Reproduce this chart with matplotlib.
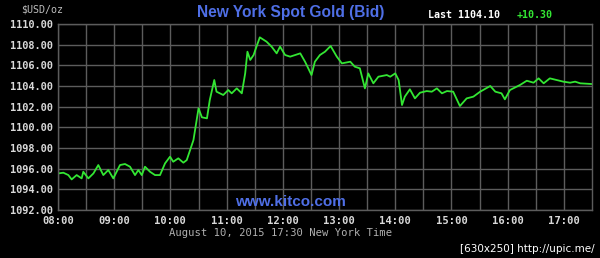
import matplotlib
matplotlib.use("Agg")
import matplotlib.pyplot as plt
import numpy as np

# hours since midnight (New York time) and bid price
hours = [8.006, 8.095, 8.184, 8.243, 8.332, 8.421, 8.45, 8.54, 8.63, 8.717,
         8.806, 8.895, 8.984, 9.103, 9.192, 9.281, 9.37, 9.43, 9.49, 9.548,
         9.637, 9.726, 9.815, 9.904, 9.993, 10.05, 10.14, 10.23, 10.29, 10.35,
         10.41, 10.50, 10.56, 10.65, 10.70, 10.78, 10.82, 10.94, 11.03, 11.09,
         11.18, 11.27, 11.33, 11.37, 11.42, 11.48, 11.51, 11.59, 11.71, 11.80,
         11.89, 11.95, 12.04, 12.13, 12.22, 12.31, 12.395, 12.51, 12.57, 12.66,
         12.75, 12.85, 12.96, 13.05, 13.20, 13.28, 13.37, 13.46, 13.52, 13.61,
         13.70, 13.85, 13.91, 14.0, 14.06, 14.12, 14.17, 14.26, 14.35, 14.44,
         14.56, 14.65, 14.74, 14.83, 14.92, 15.03, 15.15, 15.27, 15.39, 15.51,
         15.69, 15.78, 15.89, 15.95, 16.04, 16.22, 16.34, 16.46, 16.55, 16.64,
         16.75, 16.87, 16.99, 17.11, 17.20, 17.29, 17.50]
price = [1095.54, 1095.61, 1095.38, 1094.96, 1095.38, 1095.06, 1095.70, 1095.06, 1095.54, 1096.35,
         1095.38, 1095.87, 1095.06, 1096.35, 1096.45, 1096.19, 1095.38, 1095.87, 1095.38, 1096.19,
         1095.70, 1095.38, 1095.38, 1096.51, 1097.16, 1096.67, 1097.00, 1096.58, 1096.83, 1097.80,
         1098.77, 1101.84, 1100.97, 1100.87, 1102.64, 1104.58, 1103.45, 1103.13, 1103.61, 1103.29,
         1103.77, 1103.29, 1105.22, 1107.32, 1106.52, 1107.00, 1107.48, 1108.71, 1108.29, 1107.81,
         1107.16, 1107.81, 1107.00, 1106.84, 1107.00, 1107.16, 1106.35, 1105.06, 1106.35, 1107.00,
         1107.32, 1107.87, 1106.84, 1106.19, 1106.35, 1105.87, 1105.71, 1103.77, 1105.22, 1104.26,
         1104.90, 1105.06, 1104.90, 1105.22, 1104.58, 1102.16, 1102.97, 1103.68, 1102.80, 1103.35,
         1103.51, 1103.45, 1103.77, 1103.29, 1103.51, 1103.45, 1102.06, 1102.80, 1102.97, 1103.45,
         1104.00, 1103.45, 1103.29, 1102.71, 1103.61, 1104.10, 1104.51, 1104.32, 1104.74, 1104.26,
         1104.74, 1104.58, 1104.42, 1104.32, 1104.42, 1104.26, 1104.19]

x_ticks = list(range(8, 18))
x_labels = ["{:02d}:00".format(h) for h in x_ticks]
y_ticks = list(range(1092, 1111, 2))
y_labels = ["{:.2f}".format(v) for v in y_ticks]

bg = "black"
grid_c = "#5c5c5c"
txt_c = "#d9d9d9"
green = "#33e633"
blue = "#4f6fe6"
mono = "DejaVu Sans Mono"

fig = plt.figure(figsize=(6.0, 2.58), dpi=100, facecolor=bg)
ax = fig.add_axes([58 / 600, 1 - 210 / 258, 534 / 600, 186 / 258], facecolor=bg)

ax.plot(hours, price, color=green, lw=1.3)

ax.set_xlim(8, 17.5)
ax.set_ylim(1092, 1110)
ax.set_xticks(x_ticks)
ax.set_xticklabels(x_labels, family=mono, weight="bold", fontsize=7.6, color=txt_c)
ax.set_xticks(np.arange(8.5, 17.5, 1.0), minor=True)
ax.set_yticks(y_ticks)
ax.set_yticklabels(y_labels, family=mono, weight="bold", fontsize=7.4, color=txt_c)
ax.tick_params(which="both", length=0)
ax.tick_params(axis="x", pad=4)
ax.tick_params(axis="y", pad=4)
ax.grid(which="both", color=grid_c, lw=1.0)
for s in ax.spines.values():
    s.set_color(grid_c)
    s.set_linewidth(1.0)

# texts
fig.text(291 / 600, 1 - 12 / 258, "New York Spot Gold (Bid)", color=blue,
         family="Liberation Sans", weight="bold", fontsize=11.2, ha="center", va="center")
fig.text(42 / 600, 1 - 10 / 258, "$USD/oz", color="#bdbdbd", family=mono,
         fontsize=7.2, ha="center", va="center")
fig.text(428 / 600, 1 - 15 / 258, "Last 1104.10", color="white", family=mono,
         weight="bold", fontsize=7.2, ha="left", va="center")
fig.text(517 / 600, 1 - 15 / 258, "+10.30", color=green, family=mono,
         weight="bold", fontsize=7.2, ha="left", va="center")
fig.text(290 / 600, 1 - 202 / 258, "www.kitco.com", color=blue,
         family="Liberation Sans", weight="bold", fontsize=11, ha="center", va="center")
fig.text(281 / 600, 1 - 233 / 258, "August 10, 2015 17:30 New York Time", color="#b0b0b0",
         family=mono, fontsize=7.6, ha="center", va="center")
fig.text(595 / 600, 1 - 249 / 258, "[630x250] http://upic.me/", color="white",
         family="DejaVu Sans", fontsize=7.5, ha="right", va="center")

fig.savefig("out.png", dpi=100, facecolor=bg)
